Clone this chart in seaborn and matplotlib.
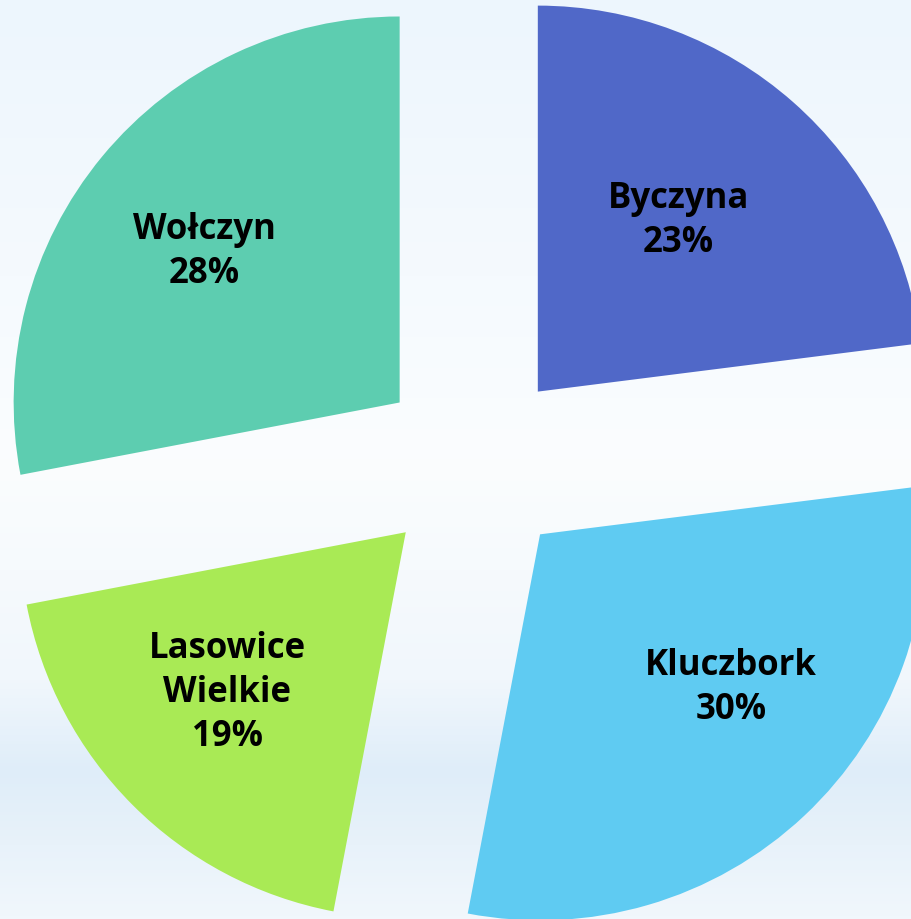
import numpy as np
import matplotlib
matplotlib.use("Agg")
import matplotlib.pyplot as plt
import matplotlib.colors as mcolors
import seaborn as sns

# Data
categories = ["Byczyna", "Kluczbork", "Lasowice\nWielkie", "Wołczyn"]
shares = [23, 30, 19, 28]
colors = ["#5068C8", "#5FCBF2", "#A9EA55", "#5DCDB0"]

sns.set_theme(style="white")
plt.rcParams["font.family"] = ["Open Sans", "DejaVu Sans"]

W, H, DPI = 912, 919, 100
fig = plt.figure(figsize=(W / DPI, H / DPI), dpi=DPI)

# Background gradient
bg_ax = fig.add_axes([0, 0, 1, 1], zorder=0)
stops = [(0.0, "#EDF6FD"), (0.3, "#F5FAFE"), (0.5, "#FBFDFE"), (0.74, "#F1F7FC"),
         (0.84, "#DFEDF9"), (0.92, "#E8F2FA"), (1.0, "#F1F7FC")]
ys = np.linspace(0, 1, 300)
rgb = np.zeros((300, 3))
for c in range(3):
    rgb[:, c] = np.interp(ys, [s[0] for s in stops],
                          [mcolors.to_rgb(s[1])[c] for s in stops])
img = np.repeat(rgb[:, None, :], 4, axis=1)
bg_ax.imshow(img, aspect="auto", extent=[0, 1, 0, 1], origin="upper")
bg_ax.axis("off")

ax = fig.add_axes([0, 0, 1, 1], zorder=1)
ax.patch.set_alpha(0)

labels = [f"{c}\n{v}%" for c, v in zip(categories, shares)]
wedges, texts = ax.pie(
    shares, labels=labels, colors=colors, startangle=90, counterclock=False,
    explode=[0.25] * 4, labeldistance=0.61, radius=1.0,
    textprops=dict(fontsize=25, fontweight="bold", color="black"),
    wedgeprops=dict(linewidth=0),
)

r_px = 386.0
# small label nudges (pixels: right, up) to mimic the original placement
nudges = [(-15, -6), (30, 18), (-12, 6), (-14, 0)]
for t, (dx, dy) in zip(texts, nudges):
    x, y = t.get_position()
    t.set_position((x + dx / r_px, y + dy / r_px))
    t.set_horizontalalignment("center")
    t.set_verticalalignment("center")
    t.set_multialignment("center")
    t.set_linespacing(1.3)

# Pie center at pixel (474, 464), radius ~386 px
cx, cy = 474.0, 464.0
ax.set_xlim(-cx / r_px, (W - cx) / r_px)
ax.set_ylim(-(H - cy) / r_px, cy / r_px)
ax.set_aspect("auto")
ax.axis("off")

fig.savefig("out.png", dpi=DPI)
